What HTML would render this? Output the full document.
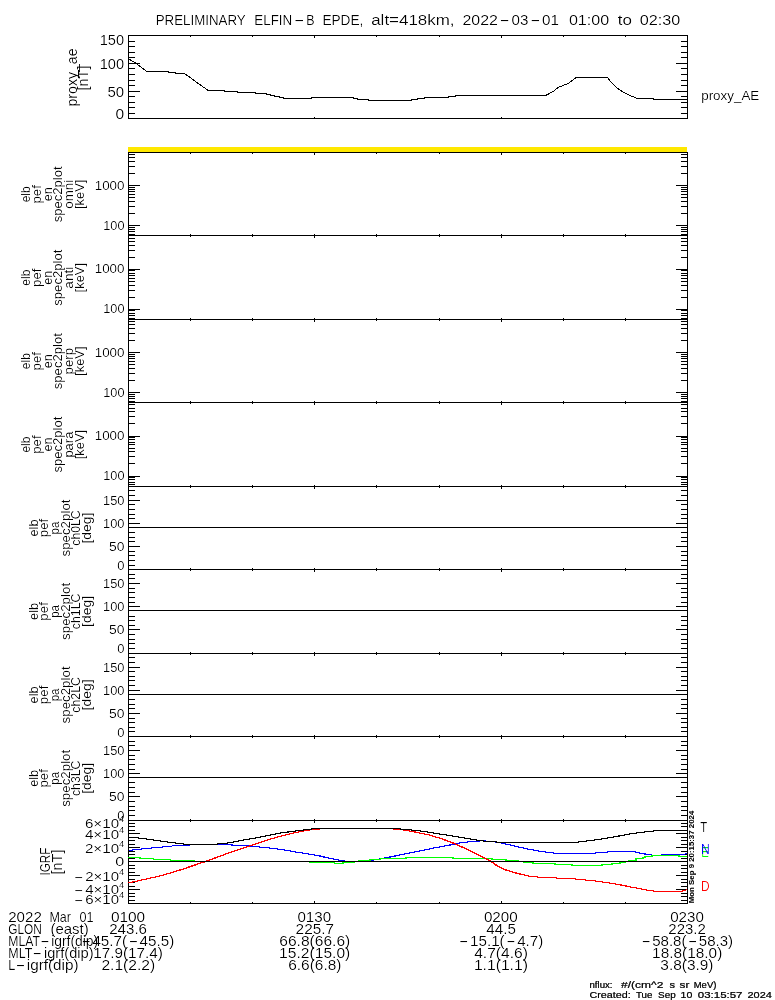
<!DOCTYPE html>
<html lang="en">
<head>
<meta charset="utf-8">
<title>PRELIMINARY ELFIN-B EPDE</title>
<style>
html,body{margin:0;padding:0;background:#fff;}
svg{display:block;will-change:transform;}
svg text{font-family:'Liberation Sans', sans-serif;}
</style>
</head>
<body>
<svg width="775" height="1000" viewBox="0 0 775 1000">
<rect x="0" y="0" width="775" height="1000" fill="#fff"/>
<g shape-rendering="crispEdges">
<rect x="128" y="35" width="560" height="1" fill="#000"/>
<rect x="128" y="118" width="560" height="1" fill="#000"/>
<rect x="128" y="35" width="1" height="84" fill="#000"/>
<rect x="687" y="35" width="1" height="84" fill="#000"/>
<rect x="190" y="36" width="1" height="1" fill="#000"/>
<rect x="252" y="36" width="1" height="1" fill="#000"/>
<rect x="314" y="36" width="1" height="2" fill="#000"/>
<rect x="376" y="36" width="1" height="1" fill="#000"/>
<rect x="439" y="36" width="1" height="1" fill="#000"/>
<rect x="501" y="36" width="1" height="2" fill="#000"/>
<rect x="563" y="36" width="1" height="1" fill="#000"/>
<rect x="625" y="36" width="1" height="1" fill="#000"/>
<rect x="314" y="117" width="1" height="1" fill="#000"/>
<rect x="501" y="117" width="1" height="1" fill="#000"/>
<rect x="129" y="113" width="6" height="1" fill="#000"/>
<rect x="681" y="113" width="6" height="1" fill="#000"/>
<rect x="129" y="107" width="6" height="1" fill="#000"/>
<rect x="681" y="107" width="6" height="1" fill="#000"/>
<rect x="129" y="102" width="6" height="1" fill="#000"/>
<rect x="681" y="102" width="6" height="1" fill="#000"/>
<rect x="129" y="96" width="6" height="1" fill="#000"/>
<rect x="681" y="96" width="6" height="1" fill="#000"/>
<rect x="129" y="85" width="6" height="1" fill="#000"/>
<rect x="681" y="85" width="6" height="1" fill="#000"/>
<rect x="129" y="80" width="6" height="1" fill="#000"/>
<rect x="681" y="80" width="6" height="1" fill="#000"/>
<rect x="129" y="74" width="6" height="1" fill="#000"/>
<rect x="681" y="74" width="6" height="1" fill="#000"/>
<rect x="129" y="68" width="6" height="1" fill="#000"/>
<rect x="681" y="68" width="6" height="1" fill="#000"/>
<rect x="129" y="57" width="6" height="1" fill="#000"/>
<rect x="681" y="57" width="6" height="1" fill="#000"/>
<rect x="129" y="52" width="6" height="1" fill="#000"/>
<rect x="681" y="52" width="6" height="1" fill="#000"/>
<rect x="129" y="46" width="6" height="1" fill="#000"/>
<rect x="681" y="46" width="6" height="1" fill="#000"/>
<rect x="129" y="41" width="6" height="1" fill="#000"/>
<rect x="681" y="41" width="6" height="1" fill="#000"/>
<rect x="129" y="91" width="11" height="1" fill="#000"/>
<rect x="676" y="91" width="11" height="1" fill="#000"/>
<rect x="129" y="63" width="11" height="1" fill="#000"/>
<rect x="676" y="63" width="11" height="1" fill="#000"/>
<rect x="128" y="147" width="559" height="5" fill="#ffe800"/>
<rect x="128" y="152" width="1" height="752" fill="#000"/>
<rect x="687" y="152" width="1" height="752" fill="#000"/>
<rect x="128" y="152" width="560" height="1" fill="#000"/>
<rect x="190" y="153" width="1" height="1" fill="#000"/>
<rect x="252" y="153" width="1" height="1" fill="#000"/>
<rect x="314" y="153" width="1" height="2" fill="#000"/>
<rect x="376" y="153" width="1" height="1" fill="#000"/>
<rect x="439" y="153" width="1" height="1" fill="#000"/>
<rect x="501" y="153" width="1" height="2" fill="#000"/>
<rect x="563" y="153" width="1" height="1" fill="#000"/>
<rect x="625" y="153" width="1" height="1" fill="#000"/>
<rect x="128" y="235" width="560" height="1" fill="#000"/>
<rect x="190" y="234" width="1" height="1" fill="#000"/>
<rect x="190" y="236" width="1" height="1" fill="#000"/>
<rect x="252" y="234" width="1" height="1" fill="#000"/>
<rect x="252" y="236" width="1" height="1" fill="#000"/>
<rect x="314" y="234" width="1" height="1" fill="#000"/>
<rect x="314" y="236" width="1" height="2" fill="#000"/>
<rect x="376" y="234" width="1" height="1" fill="#000"/>
<rect x="376" y="236" width="1" height="1" fill="#000"/>
<rect x="439" y="234" width="1" height="1" fill="#000"/>
<rect x="439" y="236" width="1" height="1" fill="#000"/>
<rect x="501" y="234" width="1" height="1" fill="#000"/>
<rect x="501" y="236" width="1" height="2" fill="#000"/>
<rect x="563" y="234" width="1" height="1" fill="#000"/>
<rect x="563" y="236" width="1" height="1" fill="#000"/>
<rect x="625" y="234" width="1" height="1" fill="#000"/>
<rect x="625" y="236" width="1" height="1" fill="#000"/>
<rect x="128" y="319" width="560" height="1" fill="#000"/>
<rect x="190" y="318" width="1" height="1" fill="#000"/>
<rect x="190" y="320" width="1" height="1" fill="#000"/>
<rect x="252" y="318" width="1" height="1" fill="#000"/>
<rect x="252" y="320" width="1" height="1" fill="#000"/>
<rect x="314" y="318" width="1" height="1" fill="#000"/>
<rect x="314" y="320" width="1" height="2" fill="#000"/>
<rect x="376" y="318" width="1" height="1" fill="#000"/>
<rect x="376" y="320" width="1" height="1" fill="#000"/>
<rect x="439" y="318" width="1" height="1" fill="#000"/>
<rect x="439" y="320" width="1" height="1" fill="#000"/>
<rect x="501" y="318" width="1" height="1" fill="#000"/>
<rect x="501" y="320" width="1" height="2" fill="#000"/>
<rect x="563" y="318" width="1" height="1" fill="#000"/>
<rect x="563" y="320" width="1" height="1" fill="#000"/>
<rect x="625" y="318" width="1" height="1" fill="#000"/>
<rect x="625" y="320" width="1" height="1" fill="#000"/>
<rect x="128" y="402" width="560" height="1" fill="#000"/>
<rect x="190" y="401" width="1" height="1" fill="#000"/>
<rect x="190" y="403" width="1" height="1" fill="#000"/>
<rect x="252" y="401" width="1" height="1" fill="#000"/>
<rect x="252" y="403" width="1" height="1" fill="#000"/>
<rect x="314" y="401" width="1" height="1" fill="#000"/>
<rect x="314" y="403" width="1" height="2" fill="#000"/>
<rect x="376" y="401" width="1" height="1" fill="#000"/>
<rect x="376" y="403" width="1" height="1" fill="#000"/>
<rect x="439" y="401" width="1" height="1" fill="#000"/>
<rect x="439" y="403" width="1" height="1" fill="#000"/>
<rect x="501" y="401" width="1" height="1" fill="#000"/>
<rect x="501" y="403" width="1" height="2" fill="#000"/>
<rect x="563" y="401" width="1" height="1" fill="#000"/>
<rect x="563" y="403" width="1" height="1" fill="#000"/>
<rect x="625" y="401" width="1" height="1" fill="#000"/>
<rect x="625" y="403" width="1" height="1" fill="#000"/>
<rect x="128" y="486" width="560" height="1" fill="#000"/>
<rect x="190" y="485" width="1" height="1" fill="#000"/>
<rect x="190" y="487" width="1" height="1" fill="#000"/>
<rect x="252" y="485" width="1" height="1" fill="#000"/>
<rect x="252" y="487" width="1" height="1" fill="#000"/>
<rect x="314" y="485" width="1" height="1" fill="#000"/>
<rect x="314" y="487" width="1" height="2" fill="#000"/>
<rect x="376" y="485" width="1" height="1" fill="#000"/>
<rect x="376" y="487" width="1" height="1" fill="#000"/>
<rect x="439" y="485" width="1" height="1" fill="#000"/>
<rect x="439" y="487" width="1" height="1" fill="#000"/>
<rect x="501" y="485" width="1" height="1" fill="#000"/>
<rect x="501" y="487" width="1" height="2" fill="#000"/>
<rect x="563" y="485" width="1" height="1" fill="#000"/>
<rect x="563" y="487" width="1" height="1" fill="#000"/>
<rect x="625" y="485" width="1" height="1" fill="#000"/>
<rect x="625" y="487" width="1" height="1" fill="#000"/>
<rect x="128" y="569" width="560" height="1" fill="#000"/>
<rect x="190" y="568" width="1" height="1" fill="#000"/>
<rect x="190" y="570" width="1" height="1" fill="#000"/>
<rect x="252" y="568" width="1" height="1" fill="#000"/>
<rect x="252" y="570" width="1" height="1" fill="#000"/>
<rect x="314" y="568" width="1" height="1" fill="#000"/>
<rect x="314" y="570" width="1" height="2" fill="#000"/>
<rect x="376" y="568" width="1" height="1" fill="#000"/>
<rect x="376" y="570" width="1" height="1" fill="#000"/>
<rect x="439" y="568" width="1" height="1" fill="#000"/>
<rect x="439" y="570" width="1" height="1" fill="#000"/>
<rect x="501" y="568" width="1" height="1" fill="#000"/>
<rect x="501" y="570" width="1" height="2" fill="#000"/>
<rect x="563" y="568" width="1" height="1" fill="#000"/>
<rect x="563" y="570" width="1" height="1" fill="#000"/>
<rect x="625" y="568" width="1" height="1" fill="#000"/>
<rect x="625" y="570" width="1" height="1" fill="#000"/>
<rect x="128" y="653" width="560" height="1" fill="#000"/>
<rect x="190" y="652" width="1" height="1" fill="#000"/>
<rect x="190" y="654" width="1" height="1" fill="#000"/>
<rect x="252" y="652" width="1" height="1" fill="#000"/>
<rect x="252" y="654" width="1" height="1" fill="#000"/>
<rect x="314" y="652" width="1" height="1" fill="#000"/>
<rect x="314" y="654" width="1" height="2" fill="#000"/>
<rect x="376" y="652" width="1" height="1" fill="#000"/>
<rect x="376" y="654" width="1" height="1" fill="#000"/>
<rect x="439" y="652" width="1" height="1" fill="#000"/>
<rect x="439" y="654" width="1" height="1" fill="#000"/>
<rect x="501" y="652" width="1" height="1" fill="#000"/>
<rect x="501" y="654" width="1" height="2" fill="#000"/>
<rect x="563" y="652" width="1" height="1" fill="#000"/>
<rect x="563" y="654" width="1" height="1" fill="#000"/>
<rect x="625" y="652" width="1" height="1" fill="#000"/>
<rect x="625" y="654" width="1" height="1" fill="#000"/>
<rect x="128" y="736" width="560" height="1" fill="#000"/>
<rect x="190" y="735" width="1" height="1" fill="#000"/>
<rect x="190" y="737" width="1" height="1" fill="#000"/>
<rect x="252" y="735" width="1" height="1" fill="#000"/>
<rect x="252" y="737" width="1" height="1" fill="#000"/>
<rect x="314" y="735" width="1" height="1" fill="#000"/>
<rect x="314" y="737" width="1" height="2" fill="#000"/>
<rect x="376" y="735" width="1" height="1" fill="#000"/>
<rect x="376" y="737" width="1" height="1" fill="#000"/>
<rect x="439" y="735" width="1" height="1" fill="#000"/>
<rect x="439" y="737" width="1" height="1" fill="#000"/>
<rect x="501" y="735" width="1" height="1" fill="#000"/>
<rect x="501" y="737" width="1" height="2" fill="#000"/>
<rect x="563" y="735" width="1" height="1" fill="#000"/>
<rect x="563" y="737" width="1" height="1" fill="#000"/>
<rect x="625" y="735" width="1" height="1" fill="#000"/>
<rect x="625" y="737" width="1" height="1" fill="#000"/>
<rect x="128" y="820" width="560" height="1" fill="#000"/>
<rect x="190" y="819" width="1" height="1" fill="#000"/>
<rect x="190" y="821" width="1" height="1" fill="#000"/>
<rect x="252" y="819" width="1" height="1" fill="#000"/>
<rect x="252" y="821" width="1" height="1" fill="#000"/>
<rect x="314" y="819" width="1" height="1" fill="#000"/>
<rect x="314" y="821" width="1" height="2" fill="#000"/>
<rect x="376" y="819" width="1" height="1" fill="#000"/>
<rect x="376" y="821" width="1" height="1" fill="#000"/>
<rect x="439" y="819" width="1" height="1" fill="#000"/>
<rect x="439" y="821" width="1" height="1" fill="#000"/>
<rect x="501" y="819" width="1" height="1" fill="#000"/>
<rect x="501" y="821" width="1" height="2" fill="#000"/>
<rect x="563" y="819" width="1" height="1" fill="#000"/>
<rect x="563" y="821" width="1" height="1" fill="#000"/>
<rect x="625" y="819" width="1" height="1" fill="#000"/>
<rect x="625" y="821" width="1" height="1" fill="#000"/>
<rect x="128" y="903" width="560" height="1" fill="#000"/>
<rect x="190" y="902" width="1" height="1" fill="#000"/>
<rect x="252" y="902" width="1" height="1" fill="#000"/>
<rect x="314" y="901" width="1" height="2" fill="#000"/>
<rect x="376" y="902" width="1" height="1" fill="#000"/>
<rect x="439" y="902" width="1" height="1" fill="#000"/>
<rect x="501" y="901" width="1" height="2" fill="#000"/>
<rect x="563" y="902" width="1" height="1" fill="#000"/>
<rect x="625" y="902" width="1" height="1" fill="#000"/>
<rect x="129" y="234" width="6" height="1" fill="#000"/>
<rect x="681" y="234" width="6" height="1" fill="#000"/>
<rect x="129" y="231" width="6" height="1" fill="#000"/>
<rect x="681" y="231" width="6" height="1" fill="#000"/>
<rect x="129" y="229" width="6" height="1" fill="#000"/>
<rect x="681" y="229" width="6" height="1" fill="#000"/>
<rect x="129" y="227" width="6" height="1" fill="#000"/>
<rect x="681" y="227" width="6" height="1" fill="#000"/>
<rect x="129" y="213" width="6" height="1" fill="#000"/>
<rect x="681" y="213" width="6" height="1" fill="#000"/>
<rect x="129" y="206" width="6" height="1" fill="#000"/>
<rect x="681" y="206" width="6" height="1" fill="#000"/>
<rect x="129" y="201" width="6" height="1" fill="#000"/>
<rect x="681" y="201" width="6" height="1" fill="#000"/>
<rect x="129" y="197" width="6" height="1" fill="#000"/>
<rect x="681" y="197" width="6" height="1" fill="#000"/>
<rect x="129" y="194" width="6" height="1" fill="#000"/>
<rect x="681" y="194" width="6" height="1" fill="#000"/>
<rect x="129" y="191" width="6" height="1" fill="#000"/>
<rect x="681" y="191" width="6" height="1" fill="#000"/>
<rect x="129" y="189" width="6" height="1" fill="#000"/>
<rect x="681" y="189" width="6" height="1" fill="#000"/>
<rect x="129" y="187" width="6" height="1" fill="#000"/>
<rect x="681" y="187" width="6" height="1" fill="#000"/>
<rect x="129" y="173" width="6" height="1" fill="#000"/>
<rect x="681" y="173" width="6" height="1" fill="#000"/>
<rect x="129" y="166" width="6" height="1" fill="#000"/>
<rect x="681" y="166" width="6" height="1" fill="#000"/>
<rect x="129" y="161" width="6" height="1" fill="#000"/>
<rect x="681" y="161" width="6" height="1" fill="#000"/>
<rect x="129" y="157" width="6" height="1" fill="#000"/>
<rect x="681" y="157" width="6" height="1" fill="#000"/>
<rect x="129" y="154" width="6" height="1" fill="#000"/>
<rect x="681" y="154" width="6" height="1" fill="#000"/>
<rect x="129" y="225" width="11" height="1" fill="#000"/>
<rect x="676" y="225" width="11" height="1" fill="#000"/>
<rect x="129" y="185" width="11" height="1" fill="#000"/>
<rect x="676" y="185" width="11" height="1" fill="#000"/>
<rect x="129" y="318" width="6" height="1" fill="#000"/>
<rect x="681" y="318" width="6" height="1" fill="#000"/>
<rect x="129" y="315" width="6" height="1" fill="#000"/>
<rect x="681" y="315" width="6" height="1" fill="#000"/>
<rect x="129" y="313" width="6" height="1" fill="#000"/>
<rect x="681" y="313" width="6" height="1" fill="#000"/>
<rect x="129" y="310" width="6" height="1" fill="#000"/>
<rect x="681" y="310" width="6" height="1" fill="#000"/>
<rect x="129" y="297" width="6" height="1" fill="#000"/>
<rect x="681" y="297" width="6" height="1" fill="#000"/>
<rect x="129" y="290" width="6" height="1" fill="#000"/>
<rect x="681" y="290" width="6" height="1" fill="#000"/>
<rect x="129" y="285" width="6" height="1" fill="#000"/>
<rect x="681" y="285" width="6" height="1" fill="#000"/>
<rect x="129" y="281" width="6" height="1" fill="#000"/>
<rect x="681" y="281" width="6" height="1" fill="#000"/>
<rect x="129" y="278" width="6" height="1" fill="#000"/>
<rect x="681" y="278" width="6" height="1" fill="#000"/>
<rect x="129" y="275" width="6" height="1" fill="#000"/>
<rect x="681" y="275" width="6" height="1" fill="#000"/>
<rect x="129" y="273" width="6" height="1" fill="#000"/>
<rect x="681" y="273" width="6" height="1" fill="#000"/>
<rect x="129" y="270" width="6" height="1" fill="#000"/>
<rect x="681" y="270" width="6" height="1" fill="#000"/>
<rect x="129" y="257" width="6" height="1" fill="#000"/>
<rect x="681" y="257" width="6" height="1" fill="#000"/>
<rect x="129" y="250" width="6" height="1" fill="#000"/>
<rect x="681" y="250" width="6" height="1" fill="#000"/>
<rect x="129" y="245" width="6" height="1" fill="#000"/>
<rect x="681" y="245" width="6" height="1" fill="#000"/>
<rect x="129" y="241" width="6" height="1" fill="#000"/>
<rect x="681" y="241" width="6" height="1" fill="#000"/>
<rect x="129" y="238" width="6" height="1" fill="#000"/>
<rect x="681" y="238" width="6" height="1" fill="#000"/>
<rect x="129" y="309" width="11" height="1" fill="#000"/>
<rect x="676" y="309" width="11" height="1" fill="#000"/>
<rect x="129" y="269" width="11" height="1" fill="#000"/>
<rect x="676" y="269" width="11" height="1" fill="#000"/>
<rect x="129" y="401" width="6" height="1" fill="#000"/>
<rect x="681" y="401" width="6" height="1" fill="#000"/>
<rect x="129" y="398" width="6" height="1" fill="#000"/>
<rect x="681" y="398" width="6" height="1" fill="#000"/>
<rect x="129" y="396" width="6" height="1" fill="#000"/>
<rect x="681" y="396" width="6" height="1" fill="#000"/>
<rect x="129" y="394" width="6" height="1" fill="#000"/>
<rect x="681" y="394" width="6" height="1" fill="#000"/>
<rect x="129" y="380" width="6" height="1" fill="#000"/>
<rect x="681" y="380" width="6" height="1" fill="#000"/>
<rect x="129" y="373" width="6" height="1" fill="#000"/>
<rect x="681" y="373" width="6" height="1" fill="#000"/>
<rect x="129" y="368" width="6" height="1" fill="#000"/>
<rect x="681" y="368" width="6" height="1" fill="#000"/>
<rect x="129" y="364" width="6" height="1" fill="#000"/>
<rect x="681" y="364" width="6" height="1" fill="#000"/>
<rect x="129" y="361" width="6" height="1" fill="#000"/>
<rect x="681" y="361" width="6" height="1" fill="#000"/>
<rect x="129" y="358" width="6" height="1" fill="#000"/>
<rect x="681" y="358" width="6" height="1" fill="#000"/>
<rect x="129" y="356" width="6" height="1" fill="#000"/>
<rect x="681" y="356" width="6" height="1" fill="#000"/>
<rect x="129" y="354" width="6" height="1" fill="#000"/>
<rect x="681" y="354" width="6" height="1" fill="#000"/>
<rect x="129" y="340" width="6" height="1" fill="#000"/>
<rect x="681" y="340" width="6" height="1" fill="#000"/>
<rect x="129" y="333" width="6" height="1" fill="#000"/>
<rect x="681" y="333" width="6" height="1" fill="#000"/>
<rect x="129" y="328" width="6" height="1" fill="#000"/>
<rect x="681" y="328" width="6" height="1" fill="#000"/>
<rect x="129" y="324" width="6" height="1" fill="#000"/>
<rect x="681" y="324" width="6" height="1" fill="#000"/>
<rect x="129" y="321" width="6" height="1" fill="#000"/>
<rect x="681" y="321" width="6" height="1" fill="#000"/>
<rect x="129" y="392" width="11" height="1" fill="#000"/>
<rect x="676" y="392" width="11" height="1" fill="#000"/>
<rect x="129" y="352" width="11" height="1" fill="#000"/>
<rect x="676" y="352" width="11" height="1" fill="#000"/>
<rect x="129" y="484" width="6" height="1" fill="#000"/>
<rect x="681" y="484" width="6" height="1" fill="#000"/>
<rect x="129" y="482" width="6" height="1" fill="#000"/>
<rect x="681" y="482" width="6" height="1" fill="#000"/>
<rect x="129" y="479" width="6" height="1" fill="#000"/>
<rect x="681" y="479" width="6" height="1" fill="#000"/>
<rect x="129" y="477" width="6" height="1" fill="#000"/>
<rect x="681" y="477" width="6" height="1" fill="#000"/>
<rect x="129" y="463" width="6" height="1" fill="#000"/>
<rect x="681" y="463" width="6" height="1" fill="#000"/>
<rect x="129" y="456" width="6" height="1" fill="#000"/>
<rect x="681" y="456" width="6" height="1" fill="#000"/>
<rect x="129" y="451" width="6" height="1" fill="#000"/>
<rect x="681" y="451" width="6" height="1" fill="#000"/>
<rect x="129" y="448" width="6" height="1" fill="#000"/>
<rect x="681" y="448" width="6" height="1" fill="#000"/>
<rect x="129" y="444" width="6" height="1" fill="#000"/>
<rect x="681" y="444" width="6" height="1" fill="#000"/>
<rect x="129" y="442" width="6" height="1" fill="#000"/>
<rect x="681" y="442" width="6" height="1" fill="#000"/>
<rect x="129" y="439" width="6" height="1" fill="#000"/>
<rect x="681" y="439" width="6" height="1" fill="#000"/>
<rect x="129" y="437" width="6" height="1" fill="#000"/>
<rect x="681" y="437" width="6" height="1" fill="#000"/>
<rect x="129" y="423" width="6" height="1" fill="#000"/>
<rect x="681" y="423" width="6" height="1" fill="#000"/>
<rect x="129" y="416" width="6" height="1" fill="#000"/>
<rect x="681" y="416" width="6" height="1" fill="#000"/>
<rect x="129" y="411" width="6" height="1" fill="#000"/>
<rect x="681" y="411" width="6" height="1" fill="#000"/>
<rect x="129" y="408" width="6" height="1" fill="#000"/>
<rect x="681" y="408" width="6" height="1" fill="#000"/>
<rect x="129" y="404" width="6" height="1" fill="#000"/>
<rect x="681" y="404" width="6" height="1" fill="#000"/>
<rect x="129" y="476" width="11" height="1" fill="#000"/>
<rect x="676" y="476" width="11" height="1" fill="#000"/>
<rect x="129" y="436" width="11" height="1" fill="#000"/>
<rect x="676" y="436" width="11" height="1" fill="#000"/>
<rect x="129" y="565" width="6" height="1" fill="#000"/>
<rect x="681" y="565" width="6" height="1" fill="#000"/>
<rect x="129" y="560" width="6" height="1" fill="#000"/>
<rect x="681" y="560" width="6" height="1" fill="#000"/>
<rect x="129" y="555" width="6" height="1" fill="#000"/>
<rect x="681" y="555" width="6" height="1" fill="#000"/>
<rect x="129" y="551" width="6" height="1" fill="#000"/>
<rect x="681" y="551" width="6" height="1" fill="#000"/>
<rect x="129" y="541" width="6" height="1" fill="#000"/>
<rect x="681" y="541" width="6" height="1" fill="#000"/>
<rect x="129" y="537" width="6" height="1" fill="#000"/>
<rect x="681" y="537" width="6" height="1" fill="#000"/>
<rect x="129" y="532" width="6" height="1" fill="#000"/>
<rect x="681" y="532" width="6" height="1" fill="#000"/>
<rect x="129" y="518" width="6" height="1" fill="#000"/>
<rect x="681" y="518" width="6" height="1" fill="#000"/>
<rect x="129" y="514" width="6" height="1" fill="#000"/>
<rect x="681" y="514" width="6" height="1" fill="#000"/>
<rect x="129" y="509" width="6" height="1" fill="#000"/>
<rect x="681" y="509" width="6" height="1" fill="#000"/>
<rect x="129" y="504" width="6" height="1" fill="#000"/>
<rect x="681" y="504" width="6" height="1" fill="#000"/>
<rect x="129" y="495" width="6" height="1" fill="#000"/>
<rect x="681" y="495" width="6" height="1" fill="#000"/>
<rect x="129" y="490" width="6" height="1" fill="#000"/>
<rect x="681" y="490" width="6" height="1" fill="#000"/>
<rect x="129" y="546" width="11" height="1" fill="#000"/>
<rect x="676" y="546" width="11" height="1" fill="#000"/>
<rect x="129" y="523" width="11" height="1" fill="#000"/>
<rect x="676" y="523" width="11" height="1" fill="#000"/>
<rect x="129" y="500" width="11" height="1" fill="#000"/>
<rect x="676" y="500" width="11" height="1" fill="#000"/>
<rect x="128" y="527" width="560" height="1" fill="#000"/>
<rect x="129" y="648" width="6" height="1" fill="#000"/>
<rect x="681" y="648" width="6" height="1" fill="#000"/>
<rect x="129" y="643" width="6" height="1" fill="#000"/>
<rect x="681" y="643" width="6" height="1" fill="#000"/>
<rect x="129" y="639" width="6" height="1" fill="#000"/>
<rect x="681" y="639" width="6" height="1" fill="#000"/>
<rect x="129" y="634" width="6" height="1" fill="#000"/>
<rect x="681" y="634" width="6" height="1" fill="#000"/>
<rect x="129" y="625" width="6" height="1" fill="#000"/>
<rect x="681" y="625" width="6" height="1" fill="#000"/>
<rect x="129" y="620" width="6" height="1" fill="#000"/>
<rect x="681" y="620" width="6" height="1" fill="#000"/>
<rect x="129" y="616" width="6" height="1" fill="#000"/>
<rect x="681" y="616" width="6" height="1" fill="#000"/>
<rect x="129" y="602" width="6" height="1" fill="#000"/>
<rect x="681" y="602" width="6" height="1" fill="#000"/>
<rect x="129" y="597" width="6" height="1" fill="#000"/>
<rect x="681" y="597" width="6" height="1" fill="#000"/>
<rect x="129" y="592" width="6" height="1" fill="#000"/>
<rect x="681" y="592" width="6" height="1" fill="#000"/>
<rect x="129" y="588" width="6" height="1" fill="#000"/>
<rect x="681" y="588" width="6" height="1" fill="#000"/>
<rect x="129" y="578" width="6" height="1" fill="#000"/>
<rect x="681" y="578" width="6" height="1" fill="#000"/>
<rect x="129" y="574" width="6" height="1" fill="#000"/>
<rect x="681" y="574" width="6" height="1" fill="#000"/>
<rect x="129" y="629" width="11" height="1" fill="#000"/>
<rect x="676" y="629" width="11" height="1" fill="#000"/>
<rect x="129" y="606" width="11" height="1" fill="#000"/>
<rect x="676" y="606" width="11" height="1" fill="#000"/>
<rect x="129" y="583" width="11" height="1" fill="#000"/>
<rect x="676" y="583" width="11" height="1" fill="#000"/>
<rect x="128" y="610" width="560" height="1" fill="#000"/>
<rect x="129" y="731" width="6" height="1" fill="#000"/>
<rect x="681" y="731" width="6" height="1" fill="#000"/>
<rect x="129" y="727" width="6" height="1" fill="#000"/>
<rect x="681" y="727" width="6" height="1" fill="#000"/>
<rect x="129" y="722" width="6" height="1" fill="#000"/>
<rect x="681" y="722" width="6" height="1" fill="#000"/>
<rect x="129" y="718" width="6" height="1" fill="#000"/>
<rect x="681" y="718" width="6" height="1" fill="#000"/>
<rect x="129" y="708" width="6" height="1" fill="#000"/>
<rect x="681" y="708" width="6" height="1" fill="#000"/>
<rect x="129" y="704" width="6" height="1" fill="#000"/>
<rect x="681" y="704" width="6" height="1" fill="#000"/>
<rect x="129" y="699" width="6" height="1" fill="#000"/>
<rect x="681" y="699" width="6" height="1" fill="#000"/>
<rect x="129" y="685" width="6" height="1" fill="#000"/>
<rect x="681" y="685" width="6" height="1" fill="#000"/>
<rect x="129" y="680" width="6" height="1" fill="#000"/>
<rect x="681" y="680" width="6" height="1" fill="#000"/>
<rect x="129" y="676" width="6" height="1" fill="#000"/>
<rect x="681" y="676" width="6" height="1" fill="#000"/>
<rect x="129" y="671" width="6" height="1" fill="#000"/>
<rect x="681" y="671" width="6" height="1" fill="#000"/>
<rect x="129" y="662" width="6" height="1" fill="#000"/>
<rect x="681" y="662" width="6" height="1" fill="#000"/>
<rect x="129" y="657" width="6" height="1" fill="#000"/>
<rect x="681" y="657" width="6" height="1" fill="#000"/>
<rect x="129" y="713" width="11" height="1" fill="#000"/>
<rect x="676" y="713" width="11" height="1" fill="#000"/>
<rect x="129" y="690" width="11" height="1" fill="#000"/>
<rect x="676" y="690" width="11" height="1" fill="#000"/>
<rect x="129" y="667" width="11" height="1" fill="#000"/>
<rect x="676" y="667" width="11" height="1" fill="#000"/>
<rect x="128" y="694" width="560" height="1" fill="#000"/>
<rect x="129" y="815" width="6" height="1" fill="#000"/>
<rect x="681" y="815" width="6" height="1" fill="#000"/>
<rect x="129" y="810" width="6" height="1" fill="#000"/>
<rect x="681" y="810" width="6" height="1" fill="#000"/>
<rect x="129" y="806" width="6" height="1" fill="#000"/>
<rect x="681" y="806" width="6" height="1" fill="#000"/>
<rect x="129" y="801" width="6" height="1" fill="#000"/>
<rect x="681" y="801" width="6" height="1" fill="#000"/>
<rect x="129" y="792" width="6" height="1" fill="#000"/>
<rect x="681" y="792" width="6" height="1" fill="#000"/>
<rect x="129" y="787" width="6" height="1" fill="#000"/>
<rect x="681" y="787" width="6" height="1" fill="#000"/>
<rect x="129" y="782" width="6" height="1" fill="#000"/>
<rect x="681" y="782" width="6" height="1" fill="#000"/>
<rect x="129" y="769" width="6" height="1" fill="#000"/>
<rect x="681" y="769" width="6" height="1" fill="#000"/>
<rect x="129" y="764" width="6" height="1" fill="#000"/>
<rect x="681" y="764" width="6" height="1" fill="#000"/>
<rect x="129" y="759" width="6" height="1" fill="#000"/>
<rect x="681" y="759" width="6" height="1" fill="#000"/>
<rect x="129" y="755" width="6" height="1" fill="#000"/>
<rect x="681" y="755" width="6" height="1" fill="#000"/>
<rect x="129" y="745" width="6" height="1" fill="#000"/>
<rect x="681" y="745" width="6" height="1" fill="#000"/>
<rect x="129" y="741" width="6" height="1" fill="#000"/>
<rect x="681" y="741" width="6" height="1" fill="#000"/>
<rect x="129" y="796" width="11" height="1" fill="#000"/>
<rect x="676" y="796" width="11" height="1" fill="#000"/>
<rect x="129" y="773" width="11" height="1" fill="#000"/>
<rect x="676" y="773" width="11" height="1" fill="#000"/>
<rect x="129" y="750" width="11" height="1" fill="#000"/>
<rect x="676" y="750" width="11" height="1" fill="#000"/>
<rect x="128" y="777" width="560" height="1" fill="#000"/>
<rect x="129" y="900" width="6" height="1" fill="#000"/>
<rect x="681" y="900" width="6" height="1" fill="#000"/>
<rect x="129" y="896" width="6" height="1" fill="#000"/>
<rect x="681" y="896" width="6" height="1" fill="#000"/>
<rect x="129" y="893" width="6" height="1" fill="#000"/>
<rect x="681" y="893" width="6" height="1" fill="#000"/>
<rect x="129" y="886" width="6" height="1" fill="#000"/>
<rect x="681" y="886" width="6" height="1" fill="#000"/>
<rect x="129" y="882" width="6" height="1" fill="#000"/>
<rect x="681" y="882" width="6" height="1" fill="#000"/>
<rect x="129" y="879" width="6" height="1" fill="#000"/>
<rect x="681" y="879" width="6" height="1" fill="#000"/>
<rect x="129" y="872" width="6" height="1" fill="#000"/>
<rect x="681" y="872" width="6" height="1" fill="#000"/>
<rect x="129" y="868" width="6" height="1" fill="#000"/>
<rect x="681" y="868" width="6" height="1" fill="#000"/>
<rect x="129" y="865" width="6" height="1" fill="#000"/>
<rect x="681" y="865" width="6" height="1" fill="#000"/>
<rect x="129" y="858" width="6" height="1" fill="#000"/>
<rect x="681" y="858" width="6" height="1" fill="#000"/>
<rect x="129" y="854" width="6" height="1" fill="#000"/>
<rect x="681" y="854" width="6" height="1" fill="#000"/>
<rect x="129" y="851" width="6" height="1" fill="#000"/>
<rect x="681" y="851" width="6" height="1" fill="#000"/>
<rect x="129" y="844" width="6" height="1" fill="#000"/>
<rect x="681" y="844" width="6" height="1" fill="#000"/>
<rect x="129" y="840" width="6" height="1" fill="#000"/>
<rect x="681" y="840" width="6" height="1" fill="#000"/>
<rect x="129" y="837" width="6" height="1" fill="#000"/>
<rect x="681" y="837" width="6" height="1" fill="#000"/>
<rect x="129" y="830" width="6" height="1" fill="#000"/>
<rect x="681" y="830" width="6" height="1" fill="#000"/>
<rect x="129" y="826" width="6" height="1" fill="#000"/>
<rect x="681" y="826" width="6" height="1" fill="#000"/>
<rect x="129" y="823" width="6" height="1" fill="#000"/>
<rect x="681" y="823" width="6" height="1" fill="#000"/>
<rect x="129" y="889" width="11" height="1" fill="#000"/>
<rect x="676" y="889" width="11" height="1" fill="#000"/>
<rect x="129" y="875" width="11" height="1" fill="#000"/>
<rect x="676" y="875" width="11" height="1" fill="#000"/>
<rect x="129" y="861" width="11" height="1" fill="#000"/>
<rect x="676" y="861" width="11" height="1" fill="#000"/>
<rect x="129" y="847" width="11" height="1" fill="#000"/>
<rect x="676" y="847" width="11" height="1" fill="#000"/>
<rect x="129" y="833" width="11" height="1" fill="#000"/>
<rect x="676" y="833" width="11" height="1" fill="#000"/>
<path d="M128.5,58.8 L134.0,62.0 L139.8,66.1 L146.9,71.5 L146.9,71.5 L168.9,71.5 L168.9,72.5 L175.3,72.5 L175.3,73.5 L184.6,73.5 L190.5,77.8 L196.4,82.1 L202.3,86.3 L208.2,90.5 L208.2,90.5 L224.9,90.5 L224.9,91.5 L237.0,91.5 L237.0,92.5 L255.9,92.5 L255.9,93.5 L266.7,93.5 L266.7,94.5 L270.3,94.5 L270.3,95.5 L274.2,95.5 L274.2,96.5 L279.1,96.5 L279.1,97.5 L283.2,97.5 L283.2,98.5 L311.9,98.5 L311.9,97.5 L353.9,97.5 L353.9,98.5 L357.1,98.5 L357.1,99.5 L368.1,99.5 L368.1,100.5 L411.0,100.5 L411.0,99.5 L417.0,99.5 L417.0,98.5 L424.3,98.5 L424.3,97.5 L448.0,97.5 L448.0,96.5 L455.2,96.5 L455.2,95.5 L545.7,95.5 L553.2,91.4 L558.4,87.4 L568.7,83.2 L576.2,77.5 L607.7,77.5 L611.0,82.3 L616.1,87.2 L623.2,92.2 L629.7,95.4 L637.4,98.5 L637.4,98.5 L653.9,98.5 L653.9,99.5 L687.0,99.5" fill="none" stroke="#000" stroke-width="1"/>
<path d="M128.5,850.4 L145.8,848.5 L158.7,847.3 L171.6,846.0 L184.5,845.2 L197.4,844.7 L223.0,844.2 L233.5,845.2 L249.0,846.0 L267.0,847.8 L280.0,849.3 L292.9,851.6 L305.8,853.7 L318.7,855.8 L325.8,857.6 L338.7,860.2 L346.5,861.3 L364.5,861.3 L372.3,860.2 L382.6,858.4 L395.5,855.8 L408.4,853.2 L421.3,850.6 L434.2,847.8 L447.1,845.5 L460.0,842.9 L472.9,841.3 L483.2,840.8 L493.5,841.8 L502.9,843.4 L515.8,846.5 L528.7,849.3 L541.6,851.6 L554.5,853.2 L593.2,853.2 L601.0,852.4 L616.5,851.4 L633.2,851.4 L639.7,853.2 L647.4,854.5 L652.6,855.3 L670.6,854.7 L681.0,854.5 L687.0,853.7" fill="none" stroke="#0000ff" stroke-width="1"/>
<path d="M129.5,850.4 L146.8,848.5 L159.7,847.3 L172.6,846.0 L185.5,845.2 L198.4,844.7 L224.0,844.2 L234.5,845.2 L250.0,846.0 L268.0,847.8 L281.0,849.3 L293.9,851.6 L306.8,853.7 L319.7,855.8 L326.8,857.6 L339.7,860.2 L347.5,861.3 L365.5,861.3 L373.3,860.2 L383.6,858.4 L396.5,855.8 L409.4,853.2 L422.3,850.6 L435.2,847.8 L448.1,845.5 L461.0,842.9 L473.9,841.3 L484.2,840.8 L494.5,841.8 L503.9,843.4 L516.8,846.5 L529.7,849.3 L542.6,851.6 L555.5,853.2 L594.2,853.2 L602.0,852.4 L617.5,851.4 L634.2,851.4 L640.7,853.2 L648.4,854.5 L653.6,855.3 L671.6,854.7 L682.0,854.5 L687.0,853.7" fill="none" stroke="#0000ff" stroke-width="1"/>
<path d="M128.5,857.1 L140.6,858.1 L158.7,859.4 L176.8,860.4 L202.6,861.3 L305.0,861.3 L311.6,862.4 L333.5,862.4 L334.8,863.4 L342.6,863.4 L343.0,862.4 L353.0,862.4 L356.0,861.3 L360.6,860.6 L369.7,860.6 L370.0,859.4 L380.0,859.4 L380.5,858.4 L405.8,858.4 L406.0,857.3 L452.3,857.3 L452.6,858.4 L491.0,858.4 L491.3,859.4 L505.5,859.4 L505.8,860.6 L515.8,860.6 L520.0,861.3 L524.8,862.4 L532.6,862.4 L533.0,863.5 L554.5,863.5 L555.0,864.6 L571.3,864.6 L572.0,865.6 L601.0,865.6 L601.5,864.6 L611.3,864.6 L611.8,863.5 L619.0,863.5 L619.5,862.4 L624.2,862.4 L627.0,861.3 L630.6,860.4 L635.8,860.4 L636.0,858.4 L642.3,858.4 L642.6,857.3 L644.8,857.3 L645.0,856.3 L651.3,856.3 L651.6,855.4 L678.4,855.4 L678.8,856.4 L687.0,856.4" fill="none" stroke="#00ff00" stroke-width="1"/>
<path d="M129.5,857.1 L141.6,858.1 L159.7,859.4 L177.8,860.4 L203.6,861.3 L306.0,861.3 L312.6,862.4 L334.5,862.4 L335.8,863.4 L343.6,863.4 L344.0,862.4 L354.0,862.4 L357.0,861.3 L361.6,860.6 L370.7,860.6 L371.0,859.4 L381.0,859.4 L381.5,858.4 L406.8,858.4 L407.0,857.3 L453.3,857.3 L453.6,858.4 L492.0,858.4 L492.3,859.4 L506.5,859.4 L506.8,860.6 L516.8,860.6 L521.0,861.3 L525.8,862.4 L533.6,862.4 L534.0,863.5 L555.5,863.5 L556.0,864.6 L572.3,864.6 L573.0,865.6 L602.0,865.6 L602.5,864.6 L612.3,864.6 L612.8,863.5 L620.0,863.5 L620.5,862.4 L625.2,862.4 L628.0,861.3 L631.6,860.4 L636.8,860.4 L637.0,858.4 L643.3,858.4 L643.6,857.3 L645.8,857.3 L646.0,856.3 L652.3,856.3 L652.6,855.4 L679.4,855.4 L679.8,856.4 L687.0,856.4" fill="none" stroke="#00ff00" stroke-width="1"/>
<path d="M128.5,882.9 L145.8,879.0 L158.7,876.2 L171.6,872.5 L184.5,868.4 L197.4,864.0 L206.5,861.0 L215.5,857.6 L228.4,852.9 L241.3,848.5 L254.2,844.2 L267.0,840.0 L280.0,836.2 L292.9,833.0 L305.8,830.5 L312.9,829.5 L323.0,828.7 L390.3,828.7 L403.2,830.0 L416.1,832.3 L429.0,835.1 L441.9,839.0 L454.8,843.9 L467.7,849.8 L480.6,856.3 L491.0,861.5 L497.7,866.6 L505.5,870.0 L515.8,873.1 L528.7,876.2 L541.6,877.5 L567.4,878.4 L580.3,879.5 L593.2,880.8 L606.1,882.6 L619.0,884.7 L631.9,887.3 L644.8,889.8 L655.2,891.4 L681.0,891.4 L687.0,889.8" fill="none" stroke="#ff0000" stroke-width="1"/>
<path d="M129.5,882.9 L146.8,879.0 L159.7,876.2 L172.6,872.5 L185.5,868.4 L198.4,864.0 L207.5,861.0 L216.5,857.6 L229.4,852.9 L242.3,848.5 L255.2,844.2 L268.0,840.0 L281.0,836.2 L293.9,833.0 L306.8,830.5 L313.9,829.5 L324.0,828.7 L391.3,828.7 L404.2,830.0 L417.1,832.3 L430.0,835.1 L442.9,839.0 L455.8,843.9 L468.7,849.8 L481.6,856.3 L492.0,861.5 L498.7,866.6 L506.5,870.0 L516.8,873.1 L529.7,876.2 L542.6,877.5 L568.4,878.4 L581.3,879.5 L594.2,880.8 L607.1,882.6 L620.0,884.7 L632.9,887.3 L645.8,889.8 L656.2,891.4 L682.0,891.4 L687.0,889.8" fill="none" stroke="#ff0000" stroke-width="1"/>
<path d="M128.5,836.9 L145.8,839.0 L158.7,840.8 L171.6,842.6 L184.5,844.2 L197.4,844.7 L215.5,844.2 L228.4,842.9 L241.3,840.3 L254.2,838.2 L267.0,835.6 L280.0,833.0 L292.9,831.3 L305.8,829.7 L312.9,828.7 L325.8,828.4 L390.3,828.4 L403.2,829.2 L416.1,830.5 L429.0,832.3 L441.9,834.4 L454.8,836.4 L467.7,838.7 L480.6,840.8 L493.5,841.8 L500.3,842.4 L575.2,842.4 L588.0,840.8 L601.0,839.0 L613.9,836.9 L626.8,834.4 L639.7,832.5 L652.6,831.0 L665.5,830.4 L687.0,830.4" fill="none" stroke="#000" stroke-width="1"/>
<path d="M129.5,836.9 L146.8,839.0 L159.7,840.8 L172.6,842.6 L185.5,844.2 L198.4,844.7 L216.5,844.2 L229.4,842.9 L242.3,840.3 L255.2,838.2 L268.0,835.6 L281.0,833.0 L293.9,831.3 L306.8,829.7 L313.9,828.7 L326.8,828.4 L391.3,828.4 L404.2,829.2 L417.1,830.5 L430.0,832.3 L442.9,834.4 L455.8,836.4 L468.7,838.7 L481.6,840.8 L494.5,841.8 L501.3,842.4 L576.2,842.4 L589.0,840.8 L602.0,839.0 L614.9,836.9 L627.8,834.4 L640.7,832.5 L653.6,831.0 L666.5,830.4 L687.0,830.4" fill="none" stroke="#000" stroke-width="1"/>
<rect x="128" y="861" width="560" height="1" fill="#000"/>
</g>
<filter id="ga" filterUnits="userSpaceOnUse" x="0" y="0" width="775" height="1000"><feComponentTransfer><feFuncA type="gamma" amplitude="1" exponent="1.5" offset="0"/></feComponentTransfer></filter>
<filter id="gb" filterUnits="userSpaceOnUse" x="0" y="0" width="775" height="1000"><feComponentTransfer><feFuncA type="gamma" amplitude="1" exponent="0.55" offset="0"/></feComponentTransfer></filter>
<filter id="gc" filterUnits="userSpaceOnUse" x="0" y="0" width="775" height="1000"><feComponentTransfer><feFuncA type="gamma" amplitude="1" exponent="0.8" offset="0"/></feComponentTransfer></filter>
<g filter="url(#ga)">
<text y="24.7" font-size="14" fill="#000"><tspan x="155.7" textLength="89.7" lengthAdjust="spacingAndGlyphs">PRELIMINARY</tspan> <tspan x="254.2" textLength="38.1" lengthAdjust="spacingAndGlyphs">ELFIN</tspan><tspan x="294.1" textLength="10.4" lengthAdjust="spacingAndGlyphs">-</tspan><tspan x="306.3" textLength="8.3" lengthAdjust="spacingAndGlyphs">B</tspan> <tspan x="322.4" textLength="41.0" lengthAdjust="spacingAndGlyphs">EPDE,</tspan> <tspan x="371.2" textLength="83.4" lengthAdjust="spacingAndGlyphs">alt=418km,</tspan> <tspan x="462.4" textLength="35.5" lengthAdjust="spacingAndGlyphs">2022</tspan><tspan x="499.6" textLength="10.2" lengthAdjust="spacingAndGlyphs">-</tspan><tspan x="511.5" textLength="16.9" lengthAdjust="spacingAndGlyphs">03</tspan><tspan x="530.2" textLength="10.2" lengthAdjust="spacingAndGlyphs">-</tspan><tspan x="542.1" textLength="16.9" lengthAdjust="spacingAndGlyphs">01</tspan> <tspan x="568.9" textLength="40.4" lengthAdjust="spacingAndGlyphs">01:00</tspan> <tspan x="617.7" textLength="14.2" lengthAdjust="spacingAndGlyphs">to</tspan> <tspan x="639.7" textLength="40.6" lengthAdjust="spacingAndGlyphs">02:30</tspan></text>
<text x="99.7" y="44.7" font-size="14" fill="#000" textLength="24.4" lengthAdjust="spacingAndGlyphs">150</text>
<text x="99.7" y="69.0" font-size="14" fill="#000" textLength="24.4" lengthAdjust="spacingAndGlyphs">100</text>
<text x="107.4" y="96.6" font-size="14" fill="#000" textLength="16.7" lengthAdjust="spacingAndGlyphs">50</text>
<text x="115.4" y="119.0" font-size="14" fill="#000" textLength="8.7" lengthAdjust="spacingAndGlyphs">0</text>
<text transform="translate(76.5,77.5) rotate(-90)" font-size="14" fill="#000" text-anchor="middle" textLength="58.0" lengthAdjust="spacingAndGlyphs">proxy_ae</text>
<text transform="translate(88.0,78.0) rotate(-90)" font-size="14" fill="#000" text-anchor="middle" textLength="25.0" lengthAdjust="spacingAndGlyphs">[nT]</text>
<text x="701.2" y="99.6" font-size="13" fill="#000" textLength="58.1" lengthAdjust="spacingAndGlyphs">proxy_AE</text>
<text x="94.7" y="189.9" font-size="12.1" fill="#000" textLength="29.8" lengthAdjust="spacingAndGlyphs">1000</text>
<text x="103.3" y="229.8" font-size="12.1" fill="#000" textLength="21.2" lengthAdjust="spacingAndGlyphs">100</text>
<text transform="translate(30.1,194.3) rotate(-90)" font-size="12.1" fill="#000" text-anchor="middle" textLength="16.0" lengthAdjust="spacingAndGlyphs">elb</text>
<text transform="translate(40.8,194.3) rotate(-90)" font-size="12.1" fill="#000" text-anchor="middle" textLength="18.5" lengthAdjust="spacingAndGlyphs">pef</text>
<text transform="translate(51.5,194.3) rotate(-90)" font-size="12.1" fill="#000" text-anchor="middle" textLength="14.0" lengthAdjust="spacingAndGlyphs">en</text>
<text transform="translate(62.2,194.3) rotate(-90)" font-size="12.1" fill="#000" text-anchor="middle" textLength="56.0" lengthAdjust="spacingAndGlyphs">spec2plot</text>
<text transform="translate(72.9,194.3) rotate(-90)" font-size="12.1" fill="#000" text-anchor="middle" textLength="29.0" lengthAdjust="spacingAndGlyphs">omni</text>
<text transform="translate(83.8,194.3) rotate(-90)" font-size="12.1" fill="#000" text-anchor="middle" textLength="29.5" lengthAdjust="spacingAndGlyphs">[keV]</text>
<text x="94.7" y="273.3" font-size="12.1" fill="#000" textLength="29.8" lengthAdjust="spacingAndGlyphs">1000</text>
<text x="103.3" y="313.2" font-size="12.1" fill="#000" textLength="21.2" lengthAdjust="spacingAndGlyphs">100</text>
<text transform="translate(30.1,277.7) rotate(-90)" font-size="12.1" fill="#000" text-anchor="middle" textLength="16.0" lengthAdjust="spacingAndGlyphs">elb</text>
<text transform="translate(40.8,277.7) rotate(-90)" font-size="12.1" fill="#000" text-anchor="middle" textLength="18.5" lengthAdjust="spacingAndGlyphs">pef</text>
<text transform="translate(51.5,277.7) rotate(-90)" font-size="12.1" fill="#000" text-anchor="middle" textLength="14.0" lengthAdjust="spacingAndGlyphs">en</text>
<text transform="translate(62.2,277.7) rotate(-90)" font-size="12.1" fill="#000" text-anchor="middle" textLength="56.0" lengthAdjust="spacingAndGlyphs">spec2plot</text>
<text transform="translate(72.9,277.7) rotate(-90)" font-size="12.1" fill="#000" text-anchor="middle" textLength="22.0" lengthAdjust="spacingAndGlyphs">anti</text>
<text transform="translate(83.8,277.7) rotate(-90)" font-size="12.1" fill="#000" text-anchor="middle" textLength="29.5" lengthAdjust="spacingAndGlyphs">[keV]</text>
<text x="94.7" y="356.8" font-size="12.1" fill="#000" textLength="29.8" lengthAdjust="spacingAndGlyphs">1000</text>
<text x="103.3" y="396.7" font-size="12.1" fill="#000" textLength="21.2" lengthAdjust="spacingAndGlyphs">100</text>
<text transform="translate(30.1,361.2) rotate(-90)" font-size="12.1" fill="#000" text-anchor="middle" textLength="16.0" lengthAdjust="spacingAndGlyphs">elb</text>
<text transform="translate(40.8,361.2) rotate(-90)" font-size="12.1" fill="#000" text-anchor="middle" textLength="18.5" lengthAdjust="spacingAndGlyphs">pef</text>
<text transform="translate(51.5,361.2) rotate(-90)" font-size="12.1" fill="#000" text-anchor="middle" textLength="14.0" lengthAdjust="spacingAndGlyphs">en</text>
<text transform="translate(62.2,361.2) rotate(-90)" font-size="12.1" fill="#000" text-anchor="middle" textLength="56.0" lengthAdjust="spacingAndGlyphs">spec2plot</text>
<text transform="translate(72.9,361.2) rotate(-90)" font-size="12.1" fill="#000" text-anchor="middle" textLength="26.5" lengthAdjust="spacingAndGlyphs">perp</text>
<text transform="translate(83.8,361.2) rotate(-90)" font-size="12.1" fill="#000" text-anchor="middle" textLength="29.5" lengthAdjust="spacingAndGlyphs">[keV]</text>
<text x="94.7" y="440.2" font-size="12.1" fill="#000" textLength="29.8" lengthAdjust="spacingAndGlyphs">1000</text>
<text x="103.3" y="480.1" font-size="12.1" fill="#000" textLength="21.2" lengthAdjust="spacingAndGlyphs">100</text>
<text transform="translate(30.1,444.6) rotate(-90)" font-size="12.1" fill="#000" text-anchor="middle" textLength="16.0" lengthAdjust="spacingAndGlyphs">elb</text>
<text transform="translate(40.8,444.6) rotate(-90)" font-size="12.1" fill="#000" text-anchor="middle" textLength="18.5" lengthAdjust="spacingAndGlyphs">pef</text>
<text transform="translate(51.5,444.6) rotate(-90)" font-size="12.1" fill="#000" text-anchor="middle" textLength="14.0" lengthAdjust="spacingAndGlyphs">en</text>
<text transform="translate(62.2,444.6) rotate(-90)" font-size="12.1" fill="#000" text-anchor="middle" textLength="56.0" lengthAdjust="spacingAndGlyphs">spec2plot</text>
<text transform="translate(72.9,444.6) rotate(-90)" font-size="12.1" fill="#000" text-anchor="middle" textLength="26.0" lengthAdjust="spacingAndGlyphs">para</text>
<text transform="translate(83.8,444.6) rotate(-90)" font-size="12.1" fill="#000" text-anchor="middle" textLength="29.5" lengthAdjust="spacingAndGlyphs">[keV]</text>
<text x="103.1" y="504.7" font-size="12.1" fill="#000" textLength="21.4" lengthAdjust="spacingAndGlyphs">150</text>
<text x="103.1" y="527.8" font-size="12.1" fill="#000" textLength="21.4" lengthAdjust="spacingAndGlyphs">100</text>
<text x="109.1" y="550.9" font-size="12.1" fill="#000" textLength="15.4" lengthAdjust="spacingAndGlyphs">50</text>
<text x="117.3" y="569.8" font-size="12.1" fill="#000" textLength="7.2" lengthAdjust="spacingAndGlyphs">0</text>
<text transform="translate(37.5,528.0) rotate(-90)" font-size="12.1" fill="#000" text-anchor="middle" textLength="17.0" lengthAdjust="spacingAndGlyphs">elb</text>
<text transform="translate(48.2,528.0) rotate(-90)" font-size="12.1" fill="#000" text-anchor="middle" textLength="18.5" lengthAdjust="spacingAndGlyphs">pef</text>
<text transform="translate(58.9,528.0) rotate(-90)" font-size="12.1" fill="#000" text-anchor="middle" textLength="12.8" lengthAdjust="spacingAndGlyphs">pa</text>
<text transform="translate(69.6,528.0) rotate(-90)" font-size="12.1" fill="#000" text-anchor="middle" textLength="57.0" lengthAdjust="spacingAndGlyphs">spec2plot</text>
<text transform="translate(80.3,528.0) rotate(-90)" font-size="12.1" fill="#000" text-anchor="middle" textLength="35.5" lengthAdjust="spacingAndGlyphs">ch0LC</text>
<text transform="translate(91.2,528.0) rotate(-90)" font-size="12.1" fill="#000" text-anchor="middle" textLength="31.0" lengthAdjust="spacingAndGlyphs">[deg]</text>
<text x="103.1" y="588.1" font-size="12.1" fill="#000" textLength="21.4" lengthAdjust="spacingAndGlyphs">150</text>
<text x="103.1" y="611.2" font-size="12.1" fill="#000" textLength="21.4" lengthAdjust="spacingAndGlyphs">100</text>
<text x="109.1" y="634.3" font-size="12.1" fill="#000" textLength="15.4" lengthAdjust="spacingAndGlyphs">50</text>
<text x="117.3" y="653.2" font-size="12.1" fill="#000" textLength="7.2" lengthAdjust="spacingAndGlyphs">0</text>
<text transform="translate(37.5,611.4) rotate(-90)" font-size="12.1" fill="#000" text-anchor="middle" textLength="17.0" lengthAdjust="spacingAndGlyphs">elb</text>
<text transform="translate(48.2,611.4) rotate(-90)" font-size="12.1" fill="#000" text-anchor="middle" textLength="18.5" lengthAdjust="spacingAndGlyphs">pef</text>
<text transform="translate(58.9,611.4) rotate(-90)" font-size="12.1" fill="#000" text-anchor="middle" textLength="12.8" lengthAdjust="spacingAndGlyphs">pa</text>
<text transform="translate(69.6,611.4) rotate(-90)" font-size="12.1" fill="#000" text-anchor="middle" textLength="57.0" lengthAdjust="spacingAndGlyphs">spec2plot</text>
<text transform="translate(80.3,611.4) rotate(-90)" font-size="12.1" fill="#000" text-anchor="middle" textLength="35.5" lengthAdjust="spacingAndGlyphs">ch1LC</text>
<text transform="translate(91.2,611.4) rotate(-90)" font-size="12.1" fill="#000" text-anchor="middle" textLength="31.0" lengthAdjust="spacingAndGlyphs">[deg]</text>
<text x="103.1" y="671.6" font-size="12.1" fill="#000" textLength="21.4" lengthAdjust="spacingAndGlyphs">150</text>
<text x="103.1" y="694.7" font-size="12.1" fill="#000" textLength="21.4" lengthAdjust="spacingAndGlyphs">100</text>
<text x="109.1" y="717.8" font-size="12.1" fill="#000" textLength="15.4" lengthAdjust="spacingAndGlyphs">50</text>
<text x="117.3" y="736.7" font-size="12.1" fill="#000" textLength="7.2" lengthAdjust="spacingAndGlyphs">0</text>
<text transform="translate(37.5,694.9) rotate(-90)" font-size="12.1" fill="#000" text-anchor="middle" textLength="17.0" lengthAdjust="spacingAndGlyphs">elb</text>
<text transform="translate(48.2,694.9) rotate(-90)" font-size="12.1" fill="#000" text-anchor="middle" textLength="18.5" lengthAdjust="spacingAndGlyphs">pef</text>
<text transform="translate(58.9,694.9) rotate(-90)" font-size="12.1" fill="#000" text-anchor="middle" textLength="12.8" lengthAdjust="spacingAndGlyphs">pa</text>
<text transform="translate(69.6,694.9) rotate(-90)" font-size="12.1" fill="#000" text-anchor="middle" textLength="57.0" lengthAdjust="spacingAndGlyphs">spec2plot</text>
<text transform="translate(80.3,694.9) rotate(-90)" font-size="12.1" fill="#000" text-anchor="middle" textLength="35.5" lengthAdjust="spacingAndGlyphs">ch2LC</text>
<text transform="translate(91.2,694.9) rotate(-90)" font-size="12.1" fill="#000" text-anchor="middle" textLength="31.0" lengthAdjust="spacingAndGlyphs">[deg]</text>
<text x="103.1" y="755.0" font-size="12.1" fill="#000" textLength="21.4" lengthAdjust="spacingAndGlyphs">150</text>
<text x="103.1" y="778.1" font-size="12.1" fill="#000" textLength="21.4" lengthAdjust="spacingAndGlyphs">100</text>
<text x="109.1" y="801.2" font-size="12.1" fill="#000" textLength="15.4" lengthAdjust="spacingAndGlyphs">50</text>
<text x="117.3" y="820.1" font-size="12.1" fill="#000" textLength="7.2" lengthAdjust="spacingAndGlyphs">0</text>
<text transform="translate(37.5,778.3) rotate(-90)" font-size="12.1" fill="#000" text-anchor="middle" textLength="17.0" lengthAdjust="spacingAndGlyphs">elb</text>
<text transform="translate(48.2,778.3) rotate(-90)" font-size="12.1" fill="#000" text-anchor="middle" textLength="18.5" lengthAdjust="spacingAndGlyphs">pef</text>
<text transform="translate(58.9,778.3) rotate(-90)" font-size="12.1" fill="#000" text-anchor="middle" textLength="12.8" lengthAdjust="spacingAndGlyphs">pa</text>
<text transform="translate(69.6,778.3) rotate(-90)" font-size="12.1" fill="#000" text-anchor="middle" textLength="57.0" lengthAdjust="spacingAndGlyphs">spec2plot</text>
<text transform="translate(80.3,778.3) rotate(-90)" font-size="12.1" fill="#000" text-anchor="middle" textLength="35.5" lengthAdjust="spacingAndGlyphs">ch3LC</text>
<text transform="translate(91.2,778.3) rotate(-90)" font-size="12.1" fill="#000" text-anchor="middle" textLength="31.0" lengthAdjust="spacingAndGlyphs">[deg]</text>
<text x="84.9" y="828.3" font-size="12.1" fill="#000" textLength="34.2" lengthAdjust="spacingAndGlyphs">6×10</text>
<text x="119.0" y="822.3" font-size="8.4" fill="#000" textLength="5.2" lengthAdjust="spacingAndGlyphs">4</text>
<text x="84.9" y="838.6" font-size="12.1" fill="#000" textLength="34.2" lengthAdjust="spacingAndGlyphs">4×10</text>
<text x="119.0" y="832.6" font-size="8.4" fill="#000" textLength="5.2" lengthAdjust="spacingAndGlyphs">4</text>
<text x="84.9" y="852.8" font-size="12.1" fill="#000" textLength="34.2" lengthAdjust="spacingAndGlyphs">2×10</text>
<text x="119.0" y="846.8" font-size="8.4" fill="#000" textLength="5.2" lengthAdjust="spacingAndGlyphs">4</text>
<text x="115.3" y="866.4" font-size="12.1" fill="#000" textLength="9.0" lengthAdjust="spacingAndGlyphs">0</text>
<text y="880.6" font-size="12.1" fill="#000"><tspan x="74.1" textLength="9.5" lengthAdjust="spacingAndGlyphs">-</tspan><tspan x="85.2" textLength="33.9" lengthAdjust="spacingAndGlyphs">2×10</tspan></text>
<text x="119.0" y="874.6" font-size="8.4" fill="#000" textLength="5.2" lengthAdjust="spacingAndGlyphs">4</text>
<text y="894.0" font-size="12.1" fill="#000"><tspan x="74.1" textLength="9.5" lengthAdjust="spacingAndGlyphs">-</tspan><tspan x="85.2" textLength="33.9" lengthAdjust="spacingAndGlyphs">4×10</tspan></text>
<text x="119.0" y="888.0" font-size="8.4" fill="#000" textLength="5.2" lengthAdjust="spacingAndGlyphs">4</text>
<text y="903.5" font-size="12.1" fill="#000"><tspan x="74.1" textLength="9.5" lengthAdjust="spacingAndGlyphs">-</tspan><tspan x="85.2" textLength="33.9" lengthAdjust="spacingAndGlyphs">6×10</tspan></text>
<text x="119.0" y="897.5" font-size="8.4" fill="#000" textLength="5.2" lengthAdjust="spacingAndGlyphs">4</text>
<text transform="translate(49.9,861.5) rotate(-90)" font-size="14" fill="#000" text-anchor="middle" textLength="28.0" lengthAdjust="spacingAndGlyphs">IGRF</text>
<text transform="translate(62.0,862.0) rotate(-90)" font-size="14" fill="#000" text-anchor="middle" textLength="25.0" lengthAdjust="spacingAndGlyphs">[nT]</text>
<text x="700.3" y="832.0" font-size="14" fill="#000" textLength="6.9" lengthAdjust="spacingAndGlyphs">T</text>
<text x="701.2" y="856.7" font-size="14" fill="#00ff00" textLength="7.6" lengthAdjust="spacingAndGlyphs">E</text>
<text x="701.0" y="854.0" font-size="14" fill="#0000ff" textLength="8.8" lengthAdjust="spacingAndGlyphs">N</text>
<text x="701.0" y="890.8" font-size="14" fill="#ff0000" textLength="8.6" lengthAdjust="spacingAndGlyphs">D</text>
<text y="921.8" font-size="13.9" fill="#000"><tspan x="8.2" textLength="33.6" lengthAdjust="spacingAndGlyphs">2022</tspan> <tspan x="49.4" textLength="21.5" lengthAdjust="spacingAndGlyphs">Mar</tspan> <tspan x="79.6" textLength="14.0" lengthAdjust="spacingAndGlyphs">01</tspan></text>
<text y="933.8" font-size="13.9" fill="#000"><tspan x="8.2" textLength="33.6" lengthAdjust="spacingAndGlyphs">GLON</tspan> <tspan x="50.5" textLength="38.1" lengthAdjust="spacingAndGlyphs">(east)</tspan></text>
<text y="945.8" font-size="13.9" fill="#000"><tspan x="8.3" textLength="31.7" lengthAdjust="spacingAndGlyphs">MLAT</tspan><tspan x="40.2" textLength="9.4" lengthAdjust="spacingAndGlyphs">-</tspan><tspan x="51.2" textLength="46.9" lengthAdjust="spacingAndGlyphs">igrf(dip)</tspan></text>
<text y="957.8" font-size="13.9" fill="#000"><tspan x="8.3" textLength="24.0" lengthAdjust="spacingAndGlyphs">MLT</tspan><tspan x="32.5" textLength="9.4" lengthAdjust="spacingAndGlyphs">-</tspan><tspan x="43.9" textLength="49.7" lengthAdjust="spacingAndGlyphs">igrf(dip)</tspan></text>
<text y="969.8" font-size="13.9" fill="#000"><tspan x="8.3" textLength="7.0" lengthAdjust="spacingAndGlyphs">L</tspan><tspan x="15.7" textLength="9.5" lengthAdjust="spacingAndGlyphs">-</tspan><tspan x="26.8" textLength="51.8" lengthAdjust="spacingAndGlyphs">igrf(dip)</tspan></text>
<text x="110.9" y="921.8" font-size="13.9" fill="#000" textLength="34.3" lengthAdjust="spacingAndGlyphs">0100</text>
<text x="109.2" y="933.8" font-size="13.9" fill="#000" textLength="37.8" lengthAdjust="spacingAndGlyphs">243.6</text>
<text y="945.8" font-size="13.9" fill="#000"><tspan x="81.5" textLength="9.4" lengthAdjust="spacingAndGlyphs">-</tspan><tspan x="92.4" textLength="34.7" lengthAdjust="spacingAndGlyphs">45.7(</tspan><tspan x="128.7" textLength="9.4" lengthAdjust="spacingAndGlyphs">-</tspan><tspan x="139.6" textLength="34.7" lengthAdjust="spacingAndGlyphs">45.5)</tspan></text>
<text x="93.2" y="957.8" font-size="13.9" fill="#000" textLength="69.7" lengthAdjust="spacingAndGlyphs">17.9(17.4)</text>
<text x="101.4" y="969.8" font-size="13.9" fill="#000" textLength="53.7" lengthAdjust="spacingAndGlyphs">2.1(2.2)</text>
<text x="297.4" y="921.8" font-size="13.9" fill="#000" textLength="33.7" lengthAdjust="spacingAndGlyphs">0130</text>
<text x="295.6" y="933.8" font-size="13.9" fill="#000" textLength="38.4" lengthAdjust="spacingAndGlyphs">225.7</text>
<text x="279.3" y="945.8" font-size="13.9" fill="#000" textLength="71.0" lengthAdjust="spacingAndGlyphs">66.8(66.6)</text>
<text x="279.1" y="957.8" font-size="13.9" fill="#000" textLength="71.2" lengthAdjust="spacingAndGlyphs">15.2(15.0)</text>
<text x="288.2" y="969.8" font-size="13.9" fill="#000" textLength="53.3" lengthAdjust="spacingAndGlyphs">6.6(6.8)</text>
<text x="483.9" y="921.8" font-size="13.9" fill="#000" textLength="33.8" lengthAdjust="spacingAndGlyphs">0200</text>
<text x="486.3" y="933.8" font-size="13.9" fill="#000" textLength="29.6" lengthAdjust="spacingAndGlyphs">44.5</text>
<text y="945.8" font-size="13.9" fill="#000"><tspan x="459.1" textLength="9.4" lengthAdjust="spacingAndGlyphs">-</tspan><tspan x="470.0" textLength="34.7" lengthAdjust="spacingAndGlyphs">15.1(</tspan><tspan x="506.2" textLength="9.4" lengthAdjust="spacingAndGlyphs">-</tspan><tspan x="517.2" textLength="26.1" lengthAdjust="spacingAndGlyphs">4.7)</tspan></text>
<text x="474.2" y="957.8" font-size="13.9" fill="#000" textLength="53.7" lengthAdjust="spacingAndGlyphs">4.7(4.6)</text>
<text x="473.9" y="969.8" font-size="13.9" fill="#000" textLength="54.0" lengthAdjust="spacingAndGlyphs">1.1(1.1)</text>
<text x="670.2" y="921.8" font-size="13.9" fill="#000" textLength="33.7" lengthAdjust="spacingAndGlyphs">0230</text>
<text x="668.3" y="933.8" font-size="13.9" fill="#000" textLength="37.5" lengthAdjust="spacingAndGlyphs">223.2</text>
<text y="945.8" font-size="13.9" fill="#000"><tspan x="641.4" textLength="9.3" lengthAdjust="spacingAndGlyphs">-</tspan><tspan x="652.2" textLength="34.3" lengthAdjust="spacingAndGlyphs">58.8(</tspan><tspan x="688.0" textLength="9.3" lengthAdjust="spacingAndGlyphs">-</tspan><tspan x="698.8" textLength="34.3" lengthAdjust="spacingAndGlyphs">58.3)</tspan></text>
<text x="652.1" y="957.8" font-size="13.9" fill="#000" textLength="70.2" lengthAdjust="spacingAndGlyphs">18.8(18.0)</text>
<text x="660.3" y="969.8" font-size="13.9" fill="#000" textLength="53.2" lengthAdjust="spacingAndGlyphs">3.8(3.9)</text>
</g>
<g filter="url(#gb)">
<text y="988.0" font-size="9.5" fill="#000"><tspan x="589.5" textLength="23.0" lengthAdjust="spacingAndGlyphs">nflux:</tspan> <tspan x="621.0" textLength="42.4" lengthAdjust="spacingAndGlyphs">#/(cm^2</tspan> <tspan x="669.6" textLength="5.5" lengthAdjust="spacingAndGlyphs">s</tspan> <tspan x="679.5" textLength="9.8" lengthAdjust="spacingAndGlyphs">sr</tspan> <tspan x="693.7" textLength="22.7" lengthAdjust="spacingAndGlyphs">MeV)</tspan></text>
<text y="998.3" font-size="9.5" fill="#000"><tspan x="589.5" textLength="41.3" lengthAdjust="spacingAndGlyphs">Created:</tspan> <tspan x="636.0" textLength="16.4" lengthAdjust="spacingAndGlyphs">Tue</tspan> <tspan x="658.1" textLength="17.6" lengthAdjust="spacingAndGlyphs">Sep</tspan> <tspan x="680.6" textLength="11.8" lengthAdjust="spacingAndGlyphs">10</tspan> <tspan x="697.8" textLength="44.7" lengthAdjust="spacingAndGlyphs">03:15:57</tspan> <tspan x="747.5" textLength="24.4" lengthAdjust="spacingAndGlyphs">2024</tspan></text>
</g>
<g filter="url(#gc)">
<text transform="translate(693.7,857.0) rotate(-90)" font-size="7.6" fill="#000" font-weight="bold" text-anchor="middle" textLength="92.5" lengthAdjust="spacingAndGlyphs">Mon Sep 9 20:15:37 2024</text>
</g>
</svg>
</body>
</html>
